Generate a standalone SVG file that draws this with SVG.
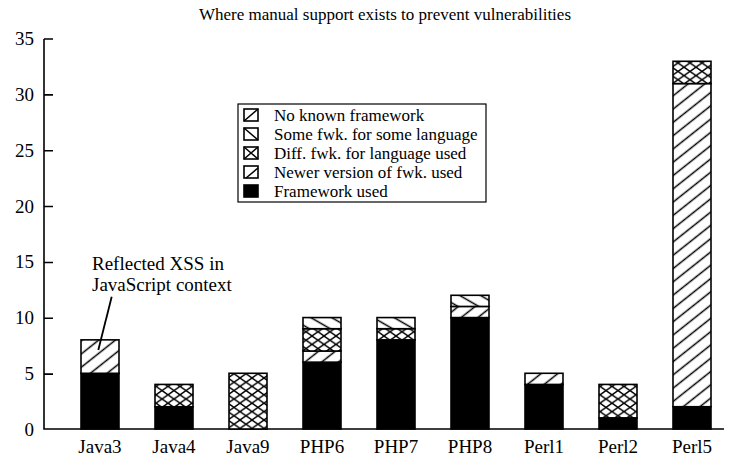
<svg xmlns="http://www.w3.org/2000/svg" width="736" height="460" viewBox="0 0 736 460">
<style>
text{font-family:"Liberation Serif","Times New Roman",serif;fill:#000}
.title{font-size:17px}
.tick{font-size:19px;text-anchor:end}
.xl{font-size:19px;text-anchor:middle}
.leg{font-size:17px}
.ann{font-size:19px}
.seg{stroke:#000;stroke-width:1.6}
.sw{stroke:#000;stroke-width:1.6;fill:#fff}
.swl{stroke:#000;stroke-width:1.5;fill:none}
.axis{stroke:#000;stroke-width:1.6;fill:none}
</style>
<defs>
<pattern id="pNewer" patternUnits="userSpaceOnUse" width="10" height="10.4" patternTransform="rotate(-38.5)">
<rect width="10" height="10.4" fill="#fff"/>
<line x1="-1" y1="5.2" x2="11" y2="5.2" stroke="#000" stroke-width="1.5"/>
</pattern>
<pattern id="pSome" patternUnits="userSpaceOnUse" width="10" height="10.4" patternTransform="rotate(30)">
<rect width="10" height="10.4" fill="#fff"/>
<line x1="-1" y1="5.2" x2="11" y2="5.2" stroke="#000" stroke-width="1.5"/>
</pattern>
<pattern id="pDiff" patternUnits="userSpaceOnUse" width="12" height="8.4">
<rect width="12" height="8.4" fill="#fff"/>
<path d="M0,0 L12,8.4 M0,8.4 L12,0" stroke="#000" stroke-width="1.4" fill="none"/>
</pattern>
</defs>
<rect width="736" height="460" fill="#fff"/>

<text class="title" x="385" y="20" text-anchor="middle">Where manual support exists to prevent vulnerabilities</text>

<g id="axes">
<path class="axis" d="M44,39 V429 H724"/>
<path class="axis" d="M44,39 H53 M44,94.86 H53 M44,150.71 H53 M44,206.57 H53 M44,262.43 H53 M44,318.29 H53 M44,374.14 H53"/>
<text class="tick" x="34" y="45">35</text>
<text class="tick" x="34" y="101">30</text>
<text class="tick" x="34" y="157">25</text>
<text class="tick" x="34" y="213">20</text>
<text class="tick" x="34" y="268">15</text>
<text class="tick" x="34" y="324">10</text>
<text class="tick" x="34" y="380">5</text>
<text class="tick" x="34" y="436">0</text>
</g>

<g id="bar-Java3">
<rect class="seg" x="81" y="373.29" width="38" height="55.71" fill="#000"/>
<rect class="seg" x="81" y="339.86" width="38" height="33.43" fill="url(#pNewer)"/>
<text class="xl" x="100" y="453">Java3</text>
</g>
<g id="bar-Java4">
<rect class="seg" x="155" y="406.71" width="38" height="22.29" fill="#000"/>
<rect class="seg" x="155" y="384.43" width="38" height="22.29" fill="url(#pDiff)"/>
<text class="xl" x="174" y="453">Java4</text>
</g>
<g id="bar-Java9">
<rect class="seg" x="229" y="373.29" width="38" height="55.71" fill="url(#pDiff)"/>
<text class="xl" x="248" y="453">Java9</text>
</g>
<g id="bar-PHP6">
<rect class="seg" x="303" y="362.14" width="38" height="66.86" fill="#000"/>
<rect class="seg" x="303" y="351" width="38" height="11.14" fill="url(#pNewer)"/>
<rect class="seg" x="303" y="328.71" width="38" height="22.29" fill="url(#pDiff)"/>
<rect class="seg" x="303" y="317.57" width="38" height="11.14" fill="url(#pSome)"/>
<text class="xl" x="322" y="453">PHP6</text>
</g>
<g id="bar-PHP7">
<rect class="seg" x="377" y="339.86" width="38" height="89.14" fill="#000"/>
<rect class="seg" x="377" y="328.71" width="38" height="11.14" fill="url(#pDiff)"/>
<rect class="seg" x="377" y="317.57" width="38" height="11.14" fill="url(#pSome)"/>
<text class="xl" x="396" y="453">PHP7</text>
</g>
<g id="bar-PHP8">
<rect class="seg" x="451" y="317.57" width="38" height="111.43" fill="#000"/>
<rect class="seg" x="451" y="306.43" width="38" height="11.14" fill="url(#pNewer)"/>
<rect class="seg" x="451" y="295.29" width="38" height="11.14" fill="url(#pSome)"/>
<text class="xl" x="470" y="453">PHP8</text>
</g>
<g id="bar-Perl1">
<rect class="seg" x="525" y="384.43" width="38" height="44.57" fill="#000"/>
<rect class="seg" x="525" y="373.29" width="38" height="11.14" fill="url(#pNewer)"/>
<text class="xl" x="544" y="453">Perl1</text>
</g>
<g id="bar-Perl2">
<rect class="seg" x="599" y="417.86" width="38" height="11.14" fill="#000"/>
<rect class="seg" x="599" y="384.43" width="38" height="33.43" fill="url(#pDiff)"/>
<text class="xl" x="618" y="453">Perl2</text>
</g>
<g id="bar-Perl5">
<rect class="seg" x="673" y="406.71" width="38" height="22.29" fill="#000"/>
<rect class="seg" x="673" y="83.57" width="38" height="323.14" fill="url(#pNewer)"/>
<rect class="seg" x="673" y="61.29" width="38" height="22.29" fill="url(#pDiff)"/>
<text class="xl" x="692" y="453">Perl5</text>
</g>

<g id="legend">
<rect x="238" y="104" width="248" height="98" fill="#fff" stroke="#000" stroke-width="1.2"/>
<rect class="sw" x="244" y="109" width="14" height="12"/>
<path class="swl" d="M244,121 L258,109"/>
<text class="leg" x="274" y="121">No known framework</text>
<rect class="sw" x="244" y="128" width="14" height="12"/>
<path class="swl" d="M244,128 L258,140"/>
<text class="leg" x="274" y="140">Some fwk. for some language</text>
<rect class="sw" x="244" y="147" width="14" height="12"/>
<path class="swl" d="M244,147 L258,159 M244,159 L258,147"/>
<text class="leg" x="274" y="159">Diff. fwk. for language used</text>
<rect class="sw" x="244" y="166" width="14" height="12"/>
<path class="swl" d="M246,178 L258,168"/>
<text class="leg" x="274" y="178">Newer version of fwk. used</text>
<rect class="seg" x="244" y="185" width="14" height="12" fill="#000"/>
<text class="leg" x="274" y="197">Framework used</text>
</g>

<g id="connectors">
<line x1="111.7" y1="296.7" x2="98.3" y2="350" stroke="#000" stroke-width="1.8"/>
</g>
<g id="annotation">
<text class="ann" x="92" y="270">Reflected XSS in</text>
<text class="ann" x="92" y="291">JavaScript context</text>
</g>
</svg>
